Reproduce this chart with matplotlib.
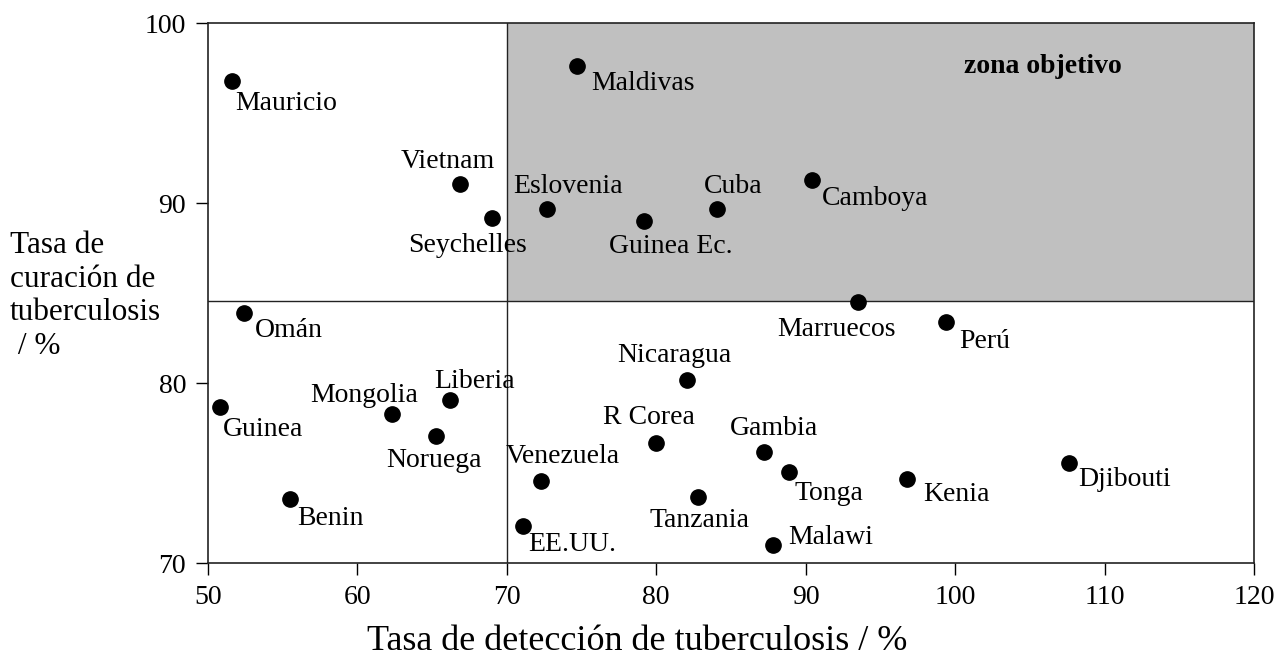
import matplotlib

matplotlib.use("Agg")

import matplotlib.pyplot as plt

# datos
countries = [
    "Mauricio", "Maldivas", "Vietnam", "Seychelles", "Eslovenia", "Guinea Ec.",
    "Cuba", "Camboya", "Omán", "Guinea", "Mongolia", "Benin", "Noruega",
    "Liberia", "Venezuela", "EE.UU.", "R Corea", "Nicaragua", "Tanzania",
    "Gambia", "Tonga", "Malawi", "Marruecos", "Perú", "Kenia", "Djibouti",
]
detection = [
    51.6, 74.7, 66.9, 69.0, 72.7, 79.2,
    84.1, 90.4, 52.4, 50.8, 62.3, 55.5, 65.3,
    66.2, 72.3, 71.1, 80.0, 82.1, 82.8,
    87.2, 88.9, 87.8, 93.5, 99.4, 96.8, 107.6,
]
cure = [
    96.8, 97.6, 91.1, 89.2, 89.7, 89.0,
    89.7, 91.3, 83.9, 78.7, 78.3, 73.6, 77.1,
    79.1, 74.6, 72.1, 76.7, 80.2, 73.7,
    76.2, 75.1, 71.0, 84.5, 83.4, 74.7, 75.6,
]
target_detection = 70
target_cure = 84.6

# desplazamiento de cada etiqueta respecto a su punto (pixeles, alineación)
label_offsets = {
    "Mauricio": (4, -23, "left"), "Maldivas": (14, -17, "left"),
    "Vietnam": (35, 22, "right"), "Seychelles": (-84, -28, "left"),
    "Eslovenia": (-34, 22, "left"), "Guinea Ec.": (-35, -25, "left"),
    "Cuba": (-14, 22, "left"), "Camboya": (10, -19, "left"),
    "Omán": (11, -17, "left"), "Guinea": (3, -23, "left"),
    "Mongolia": (27, 18, "right"), "Benin": (7, -20, "left"),
    "Noruega": (45, -25, "right"), "Liberia": (-16, 18, "left"),
    "Venezuela": (-35, 24, "left"), "EE.UU.": (5, -19, "left"),
    "R Corea": (-53, 25, "left"), "Nicaragua": (-70, 24, "left"),
    "Tanzania": (-48, -24, "left"), "Gambia": (-34, 23, "left"),
    "Tonga": (5, -22, "left"), "Malawi": (16, 8, "left"),
    "Marruecos": (38, -27, "right"), "Perú": (13, -19, "left"),
    "Kenia": (16, -16, "left"), "Djibouti": (10, -17, "left"),
}

plt.rcParams["font.family"] = ["Liberation Serif", "DejaVu Serif"]

fig = plt.figure(figsize=(12.86, 6.6), dpi=100)
ax = fig.add_axes([0.1615, 0.1465, 0.8136, 0.8182])

ax.set_xlim(50, 120)
ax.set_ylim(70, 100)

# zona objetivo sombreada
ax.fill_between([target_detection, 120], target_cure, 100, color="#c0c0c0", zorder=0, linewidth=0)
ax.axvline(target_detection, color="#222222", linewidth=1.0, zorder=1)
ax.axhline(target_cure, color="#222222", linewidth=1.0, zorder=1)

ax.plot(detection, cure, "o", color="black", markersize=11, linestyle="none", zorder=3)

for name, x, y in zip(countries, detection, cure):
    dx, dy, ha = label_offsets[name]
    ax.annotate(name, (x, y), xytext=(dx, dy), textcoords="offset pixels",
                ha=ha, va="center", fontsize=20, color="black", zorder=4)

ax.text(100.6, 97.6, "zona objetivo", fontsize=20, fontweight="bold", ha="left", va="center")

ax.set_xticks(range(50, 121, 10))
ax.set_yticks([70, 80, 90, 100])
ax.tick_params(direction="out", length=8.5, width=1.0, labelsize=20, pad=7)
for spine in ax.spines.values():
    spine.set_linewidth(1.2)
    spine.set_color("#222222")

fig.text(637 / 1286, 10 / 660, "Tasa de detección de tuberculosis / %",
         fontsize=26, ha="center", va="baseline")
fig.text(10 / 1286, 1 - 296 / 660, "Tasa de\ncuración de\ntuberculosis\n / %",
         fontsize=22.5, ha="left", va="center", multialignment="left", linespacing=1.2)

fig.savefig("out.png", dpi=100)
plt.close(fig)
